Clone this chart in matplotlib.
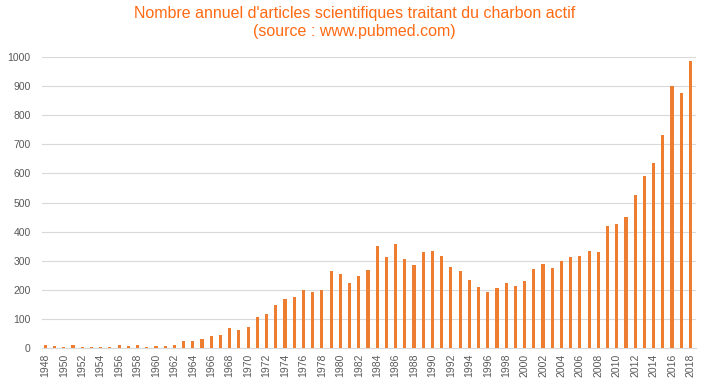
import numpy as np
import matplotlib.pyplot as plt

plt.rcParams['font.family'] = ['Liberation Sans', 'DejaVu Sans']

annees = np.arange(1948, 2019)
articles = [11, 8, 5, 11, 5, 5, 5, 5, 11, 8,
            11, 5, 8, 8, 11, 25, 25, 32, 42, 46,
            70, 63, 74, 108, 118, 149, 167, 174, 201, 194,
            201, 263, 253, 225, 249, 267, 350, 312, 357, 305,
            284, 329, 332, 315, 277, 266, 235, 211, 193, 207,
            225, 214, 232, 270, 288, 274, 298, 312, 317, 334,
            331, 420, 427, 451, 525, 592, 637, 733, 901, 877,
            987]

fig = plt.figure(figsize=(7.09, 3.85), dpi=100)
ax = fig.add_axes([0.0588, 0.096, 0.9229, 0.756])

ax.bar(annees, articles, width=0.34, color="#ED7D31", zorder=3)

ax.set_ylim(0, 1000)
ax.set_xlim(1947.6, 2018.6)
ax.set_yticks(np.arange(0, 1001, 100))
ax.set_xticks(annees[::2])
ax.set_xticklabels([str(a) for a in annees[::2]], rotation=90)
ax.tick_params(axis='both', length=0, labelsize=7.5, colors="#595959")
ax.tick_params(axis='x', pad=4)
ax.tick_params(axis='y', pad=8)
ax.grid(axis='y', color="#D9D9D9", linewidth=0.8, zorder=0)
for s in ['top', 'right', 'left']:
    ax.spines[s].set_visible(False)
ax.spines['bottom'].set_color("#D9D9D9")

fig.text(0.5, 0.985, "Nombre annuel d'articles scientifiques traitant du charbon actif\n(source : www.pubmed.com)",
         ha='center', va='top', fontsize=11.5, color="#FF6A13", linespacing=1.25)

fig.savefig("out.png", dpi=100)
